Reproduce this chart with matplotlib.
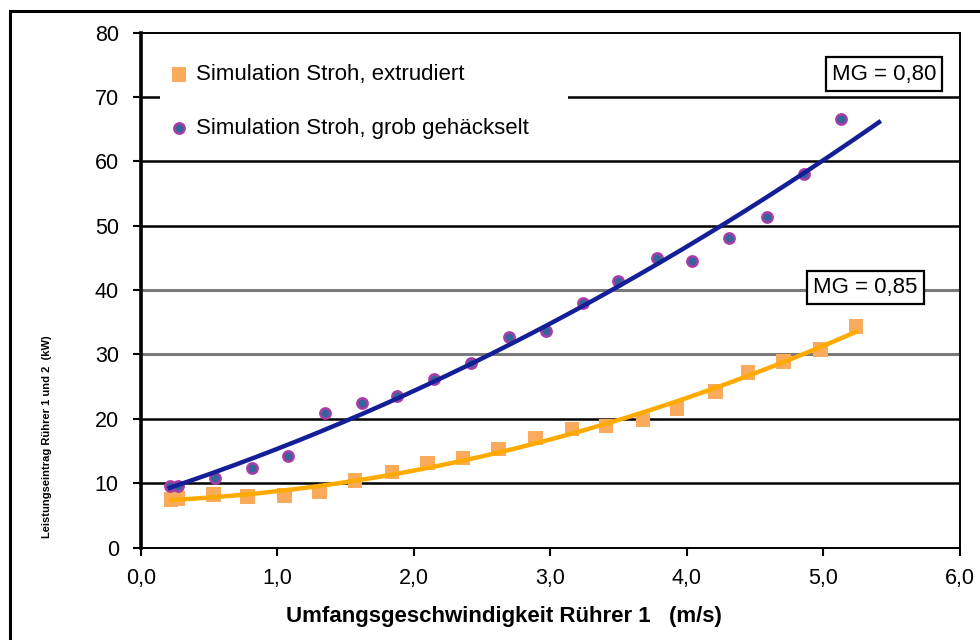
import matplotlib
matplotlib.use("Agg")
import matplotlib.pyplot as plt
from matplotlib.lines import Line2D
import numpy as np

plt.rcParams['font.family'] = ['Liberation Sans', 'DejaVu Sans']

# Leistungseintrag über Umfangsgeschwindigkeit, zwei Substrate
x_extr = [0.22, 0.27, 0.53, 0.78, 1.05, 1.31, 1.57, 1.84, 2.10, 2.36,
          2.62, 2.89, 3.16, 3.41, 3.68, 3.93, 4.21, 4.45, 4.71, 4.98, 5.24]
y_extr = [7.5, 7.6, 8.2, 7.9, 8.1, 8.6, 10.4, 11.7, 13.1, 13.9,
          15.3, 17.0, 18.4, 18.9, 19.8, 21.6, 24.2, 27.2, 28.9, 30.8, 34.3]

x_grob = [0.21, 0.27, 0.54, 0.81, 1.08, 1.35, 1.62, 1.88, 2.15, 2.42,
          2.70, 2.97, 3.24, 3.50, 3.78, 4.04, 4.31, 4.59, 4.86, 5.13]
y_grob = [9.6, 9.6, 10.8, 12.4, 14.2, 20.9, 22.5, 23.5, 26.1, 28.7,
          32.7, 33.7, 38.0, 41.4, 45.0, 44.5, 48.1, 51.4, 58.0, 66.6]

labels = ['Simulation Stroh, extrudiert', 'Simulation Stroh, grob gehäckselt']
mg_labels = ['MG = 0,85', 'MG = 0,80']
x_ticks = [0, 1, 2, 3, 4, 5, 6]
x_ticklabels = ['0,0', '1,0', '2,0', '3,0', '4,0', '5,0', '6,0']
y_ticks = [0, 10, 20, 30, 40, 50, 60, 70, 80]

fig = plt.figure(figsize=(9.8, 6.4), dpi=100)
ax = fig.add_axes([0.1439, 0.1445, 0.8352, 0.8047])
ax.set_xlim(0, 6)
ax.set_ylim(0, 80)

# horizontal grid
for yv in y_ticks[1:-1]:
    col = '#7a7a7a' if yv in (30, 40) else 'black'
    ax.axhline(yv, color=col, lw=2.2 if col != 'black' else 1.8, zorder=1)

ax.scatter(x_extr, y_extr, marker='s', s=110, color='#F9AA5A',
           edgecolors='none', zorder=2, label=labels[0])
ax.scatter(x_grob, y_grob, marker='o', s=55, color='#33669A',
           edgecolors='#A83CA8', linewidths=1.8, zorder=2, label=labels[1])

# quadratische Trendlinien, die obere etwas nach vorn verlängert
p_extr = np.polyfit(x_extr, y_extr, 2)
p_grob = np.polyfit(x_grob, y_grob, 2)
xe = np.linspace(min(x_extr), max(x_extr), 200)
xg = np.linspace(min(x_grob), 5.41, 200)
ax.plot(xe, np.polyval(p_extr, xe), color='#FFAA00', lw=3.2, zorder=3)
ax.plot(xg, np.polyval(p_grob, xg), color='#141E96', lw=3.2, zorder=3)

ax.set_xticks(x_ticks)
ax.set_xticklabels(x_ticklabels)
ax.set_yticks(y_ticks)
ax.tick_params(axis='both', labelsize=15.5, direction='out', length=6,
               width=1.5, colors='black')
ax.tick_params(axis='x', pad=9)
ax.tick_params(axis='y', pad=10)

ax.spines['left'].set_linewidth(2.6)
for s in ('top', 'right', 'bottom'):
    ax.spines[s].set_linewidth(1.4)

ax.set_xlabel('Umfangsgeschwindigkeit Rührer 1   (m/s)', fontsize=16,
              fontweight='bold', labelpad=12)
ax.xaxis.label.set_x(0.444)
fig.text(0.048, 0.318, 'Leistungseintrag Rührer 1 und 2  (kW)', rotation=90,
         fontsize=8, fontweight='bold', ha='center', va='center')

leg = ax.legend(loc='upper left', bbox_to_anchor=(0.0232, 0.0, 0.498, 0.964),
                mode='expand', fontsize=16, frameon=True, fancybox=False,
                edgecolor='none', facecolor='white', framealpha=1,
                handlelength=0.5, handletextpad=0.5, labelspacing=1.45,
                borderpad=0.6, borderaxespad=0)
leg.set_zorder(4)

box = dict(boxstyle='square,pad=0.28', facecolor='white', edgecolor='black', lw=1.6)
ax.text(5.31, 40.4, mg_labels[0], fontsize=16, ha='center', va='center',
        bbox=box, zorder=5)
ax.text(5.447, 73.55, mg_labels[1], fontsize=16, ha='center', va='center',
        bbox=box, zorder=5)

# Rahmen um das Diagramm
fig.add_artist(Line2D([10 / 980, 1], [1 - 10.5 / 640] * 2, color='black', lw=2.2,
                      transform=fig.transFigure))
fig.add_artist(Line2D([10 / 980] * 2, [0, 1 - 10.5 / 640], color='black', lw=2.2,
                      transform=fig.transFigure))

fig.savefig('out.png', dpi=100)
